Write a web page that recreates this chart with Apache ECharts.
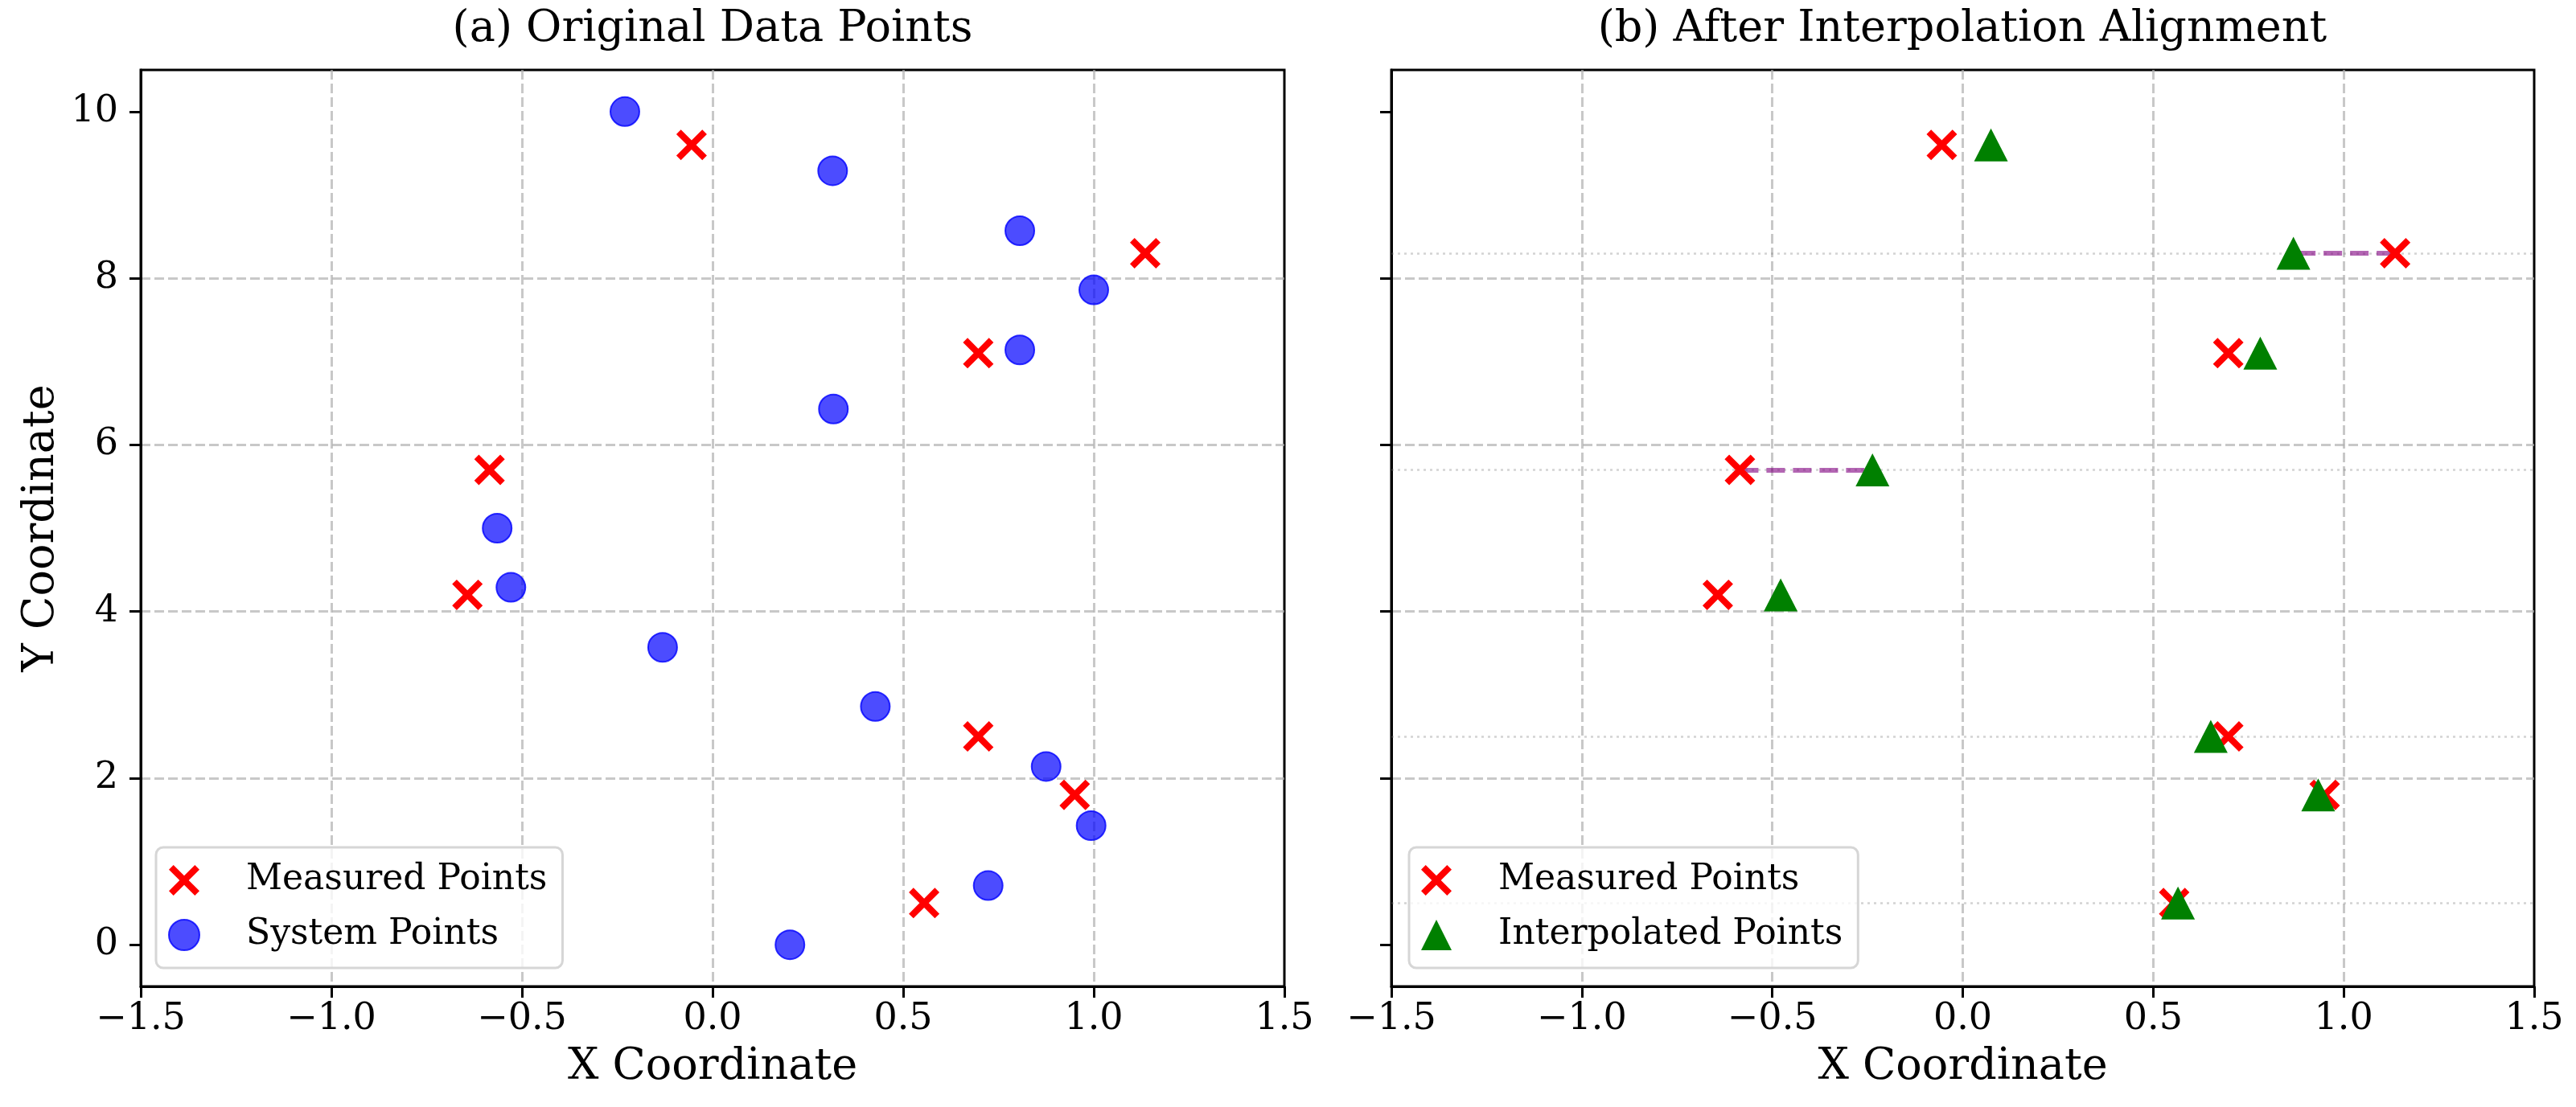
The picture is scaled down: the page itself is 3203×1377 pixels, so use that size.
<!DOCTYPE html>
<html>
<head>
<meta charset="utf-8">
<script src="https://cdn.jsdelivr.net/npm/echarts@6/dist/echarts.min.js"></script>
<style>
  html, body { margin: 0; padding: 0; background: #fff; }
  #chart { width: 3203px; height: 1377px; }
</style>
</head>
<body>
<div id="chart"></div>
<script>
// data
const SYS_X = [-0.23, 0.315, 0.806, 1.0, 0.806, 0.317, -0.565, -0.529, -0.131, 0.427, 0.875, 0.993, 0.723, 0.203];
const SYS_Y = [10.0, 9.29, 8.57, 7.86, 7.14, 6.43, 5.0, 4.29, 3.57, 2.86, 2.14, 1.43, 0.71, 0.0];
const MEAS_X = [-0.055, 1.135, 0.697, -0.585, -0.643, 0.697, 0.95, 0.555];
const MEAS_Y = [9.6, 8.3, 7.1, 5.7, 4.2, 2.5, 1.8, 0.5];
const INTERP_X = [0.074, 0.868, 0.781, -0.237, -0.478, 0.651, 0.933, 0.565];
const LINKED = [1, 3];            // points joined by the purple dashed line
const GUIDE_Y = [8.3, 5.7, 2.5, 0.5]; // dotted horizontal guides in panel (b)
const Y_TICKS = [0, 2, 4, 6, 8, 10];
const X_MIN = -1.5, X_MAX = 1.5, Y_MIN = -0.5, Y_MAX = 10.5;

const FONT = 'DejaVu Serif';
const X_PATH = 'path://M-1,-0.7 L-0.7,-1 L0,-0.3 L0.7,-1 L1,-0.7 L0.3,0 L1,0.7 L0.7,1 L0,0.3 L-0.7,1 L-1,0.7 L-0.3,0 Z';
const TRI_PATH = 'path://M0,-1 L1,1 L-1,1 Z';

const pair = (xs, ys) => xs.map((x, i) => [x, ys[i]]);

var myChart = echarts.init(document.getElementById('chart'), null, { renderer: 'canvas' });

const gridLine = {
    show: true, showMinLine: false, showMaxLine: false,
    lineStyle: { color: 'rgba(176,176,176,0.7)', width: 3, type: [12, 5] }
};

function xAxisOf(idx) {
    return {
        type: 'value', gridIndex: idx, min: X_MIN, max: X_MAX, interval: 0.5,
        name: 'X Coordinate', nameLocation: 'middle', nameGap: 74,
        nameTextStyle: { fontFamily: FONT, fontSize: 54, color: '#000' },
        axisLine: { show: true, onZero: false, lineStyle: { color: '#000', width: 3 } },
        axisTick: { show: true, length: 14, lineStyle: { color: '#000', width: 3 } },
        axisLabel: {
            margin: 18, fontFamily: FONT, fontSize: 46, color: '#000',
            formatter: v => v.toFixed(1).replace('-', '\u2212')
        },
        splitLine: gridLine
    };
}
function yAxisOf(idx, showName) {
    return {
        type: 'value', gridIndex: idx, min: Y_MIN, max: Y_MAX, splitNumber: 5,
        name: showName ? 'Y Coordinate' : '', nameLocation: 'middle', nameGap: 96,
        nameTextStyle: { fontFamily: FONT, fontSize: 54, color: '#000' },
        axisLine: { show: true, onZero: false, lineStyle: { color: '#000', width: 3 } },
        axisTick: { show: true, length: 14, customValues: Y_TICKS, lineStyle: { color: '#000', width: 3 } },
        axisLabel: {
            show: showName, margin: 28, customValues: Y_TICKS,
            fontFamily: FONT, fontSize: 46, color: '#000'
        },
        splitLine: gridLine
    };
}
function legendOf(left, names) {
    return {
        orient: 'vertical', left: left, top: 1054,
        padding: [19, 19, 19, 15], itemWidth: 88, itemHeight: 38, itemGap: 24,
        backgroundColor: 'rgba(255,255,255,0.8)', borderColor: '#d6d6d6', borderWidth: 3, borderRadius: 9,
        textStyle: { fontFamily: FONT, fontSize: 44, color: '#000', lineHeight: 44, padding: [0, 0, 0, 28] },
        selectedMode: false,
        data: names
    };
}

const measuredStyle = { color: '#ff0000', opacity: 1 };
const systemStyle = { color: 'rgba(0,0,255,0.7)', borderColor: 'rgba(0,0,255,0.8)', borderWidth: 2, opacity: 1 };

var option = {
    animation: false,
    backgroundColor: '#fff',
    textStyle: { fontFamily: FONT },
    title: [
        { text: '(a) Original Data Points', left: 886, top: 10, textAlign: 'center', padding: 0,
          textStyle: { fontFamily: FONT, fontSize: 54, fontWeight: 'normal', color: '#000' } },
        { text: '(b) After Interpolation Alignment', left: 2440, top: 10, textAlign: 'center', padding: 0,
          textStyle: { fontFamily: FONT, fontSize: 54, fontWeight: 'normal', color: '#000' } }
    ],
    grid: [
        { left: 175, top: 87, width: 1422, height: 1140, show: true, borderColor: '#000', borderWidth: 3 },
        { left: 1730, top: 87, width: 1421, height: 1140, show: true, borderColor: '#000', borderWidth: 3 }
    ],
    xAxis: [xAxisOf(0), xAxisOf(1)],
    yAxis: [yAxisOf(0, true), yAxisOf(1, false)],
    legend: [
        legendOf(194, [{ name: 'Measured Points', icon: X_PATH }, { name: 'System Points', icon: 'circle' }]),
        legendOf(1752, [{ name: 'Measured Points', icon: X_PATH }, { name: 'Interpolated Points', icon: TRI_PATH }])
    ],
    series: [
        // panel (a)
        {
            name: 'Measured Points', type: 'scatter', xAxisIndex: 0, yAxisIndex: 0, z: 3,
            symbol: X_PATH, symbolSize: 38, itemStyle: measuredStyle,
            data: pair(MEAS_X, MEAS_Y)
        },
        {
            name: 'System Points', type: 'scatter', xAxisIndex: 0, yAxisIndex: 0, z: 4,
            symbol: 'circle', symbolSize: 36, itemStyle: systemStyle,
            data: pair(SYS_X, SYS_Y)
        },
        // panel (b)
        {
            name: 'guides', type: 'lines', coordinateSystem: 'cartesian2d', xAxisIndex: 1, yAxisIndex: 1, z: 1,
            silent: true,
            lineStyle: { color: 'rgba(128,128,128,0.35)', width: 2.5, type: [3, 5], opacity: 1, curveness: 0 },
            data: GUIDE_Y.map(y => ({ coords: [[X_MIN, y], [X_MAX, y]] }))
        },
        {
            name: 'links', type: 'lines', coordinateSystem: 'cartesian2d', xAxisIndex: 1, yAxisIndex: 1, z: 2,
            silent: true,
            lineStyle: { color: 'rgba(128,0,128,0.6)', width: 6, type: [23, 10], opacity: 1, curveness: 0 },
            data: LINKED.map(i => ({ coords: [[MEAS_X[i], MEAS_Y[i]], [INTERP_X[i], MEAS_Y[i]]] }))
        },
        {
            name: 'Measured Points', type: 'scatter', xAxisIndex: 1, yAxisIndex: 1, z: 3,
            symbol: X_PATH, symbolSize: 38, itemStyle: measuredStyle,
            data: pair(MEAS_X, MEAS_Y)
        },
        {
            name: 'Interpolated Points', type: 'scatter', xAxisIndex: 1, yAxisIndex: 1, z: 4,
            symbol: TRI_PATH, symbolSize: [42, 41], itemStyle: { color: '#008000', opacity: 1 },
            data: pair(INTERP_X, MEAS_Y)
        }
    ]
};
myChart.setOption(option);
window.addEventListener('resize', function () {
    myChart.resize();
});
</script>
</body>
</html>
